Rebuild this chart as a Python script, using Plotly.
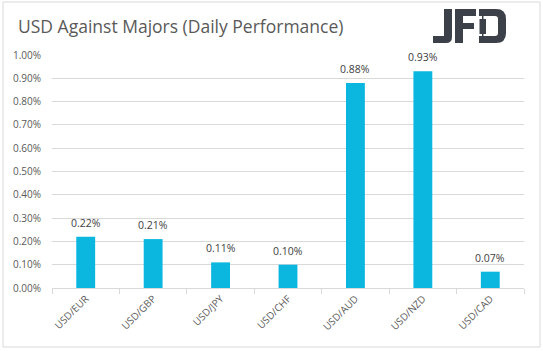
import plotly.graph_objects as go

categories = ["USD/EUR", "USD/GBP", "USD/JPY", "USD/CHF", "USD/AUD", "USD/NZD", "USD/CAD"]
values = [0.22, 0.21, 0.11, 0.10, 0.88, 0.93, 0.07]
y_ticks = [0.0, 0.1, 0.2, 0.3, 0.4, 0.5, 0.6, 0.7, 0.8, 0.9, 1.0]
title_text = "USD Against Majors (Daily Performance)"

W, H = 543, 351
ML, MR, MT, MB = 52, 19, 55, 63
PW, PH = W - ML - MR, H - MT - MB

def px(x):
    return (x - ML) / PW

def py(y):
    return (H - MB - y) / PH

def path(cmds):
    out = []
    for c in cmds:
        if isinstance(c, str):
            out.append(c)
        else:
            out.append(f"{px(c[0]):.5f},{py(c[1]):.5f}")
    s = ""
    for t in out:
        s += t if t in "MLQZ" else " " + t + " "
    return s.replace("  ", " ")

BLUE = "#0cb7df"
GRID = "#d9d9d9"
TXT = "#595959"
LOGO = "#3b4049"
FONT = "Open Sans"

fig = go.Figure(go.Bar(
    x=categories, y=values,
    marker=dict(color=BLUE, line=dict(width=0)),
    cliponaxis=False,
))

shapes = []
# outer border
shapes.append(dict(type="rect", xref="paper", yref="paper",
                   x0=px(3), x1=px(540), y0=py(347), y1=py(2),
                   line=dict(color=GRID, width=1), fillcolor="rgba(0,0,0,0)", layer="below"))
# logo J
shapes.append(dict(type="path", xref="paper", yref="paper", fillcolor=LOGO, line=dict(width=0),
    path=path(["M", (444, 9), "L", (452, 9), "L", (452, 37), "Q", (452, 43), (446, 43),
               "L", (433, 43), "L", (433, 36), "L", (444, 36), "Z"])))
# logo F
shapes.append(dict(type="path", xref="paper", yref="paper", fillcolor=LOGO, line=dict(width=0),
    path=path(["M", (455, 9), "L", (476, 9), "L", (476, 16), "L", (463, 16), "L", (463, 23),
               "L", (474, 23), "L", (474, 29), "L", (463, 29), "L", (463, 43), "L", (455, 43), "Z"])))
# logo D
shapes.append(dict(type="path", xref="paper", yref="paper", fillcolor=LOGO, line=dict(width=0),
    path=path(["M", (479, 9), "L", (496, 9), "Q", (506, 9), (506, 19), "L", (506, 33),
               "Q", (506, 43), (496, 43), "L", (479, 43), "L", (479, 36), "L", (495, 36),
               "Q", (498, 36), (498, 33), "L", (498, 19), "Q", (498, 16), (495, 16),
               "L", (479, 16), "Z"])))
# candlestick in D
shapes.append(dict(type="rect", xref="paper", yref="paper", fillcolor=LOGO, line=dict(width=0),
                   x0=px(482), x1=px(483.5), y0=py(43), y1=py(9)))
shapes.append(dict(type="rect", xref="paper", yref="paper", fillcolor=LOGO, line=dict(width=0),
                   x0=px(479.5), x1=px(486), y0=py(34), y1=py(19)))

annotations = [dict(text=title_text, xref="paper", yref="paper",
                    x=px(16), y=py(26), xanchor="left", yanchor="middle",
                    showarrow=False, font=dict(family=FONT, size=17.5, color=TXT))]
for c, v in zip(categories, values):
    annotations.append(dict(x=c, y=v, xref="x", yref="y", text=f"{v:.2f}%",
                            showarrow=False, yanchor="bottom", yshift=5,
                            font=dict(family=FONT, size=10.5, color="#404040")))

fig.update_layout(
    width=W, height=H,
    margin=dict(l=ML, r=MR, t=MT, b=MB),
    paper_bgcolor="white", plot_bgcolor="white",
    showlegend=False,
    bargap=0.72,
    shapes=shapes,
    font=dict(family=FONT, color=TXT),
    annotations=annotations,
    xaxis=dict(
        type="category",
        showline=True, linecolor=GRID, linewidth=1,
        ticks="outside", tickson="boundaries", ticklen=5, tickcolor=GRID,
        tickangle=-45, tickfont=dict(family=FONT, size=10, color=TXT),
        showgrid=False,
    ),
    yaxis=dict(
        range=[0, 1.0],
        tickvals=y_ticks,
        ticktext=[f"{v:.2f}%" for v in y_ticks],
        tickfont=dict(family=FONT, size=10, color=TXT),
        showgrid=True, gridcolor=GRID, gridwidth=1,
        zeroline=False, showline=False, ticks="",
        ticklabelstandoff=10,
    ),
)

fig.write_html("out.html")
